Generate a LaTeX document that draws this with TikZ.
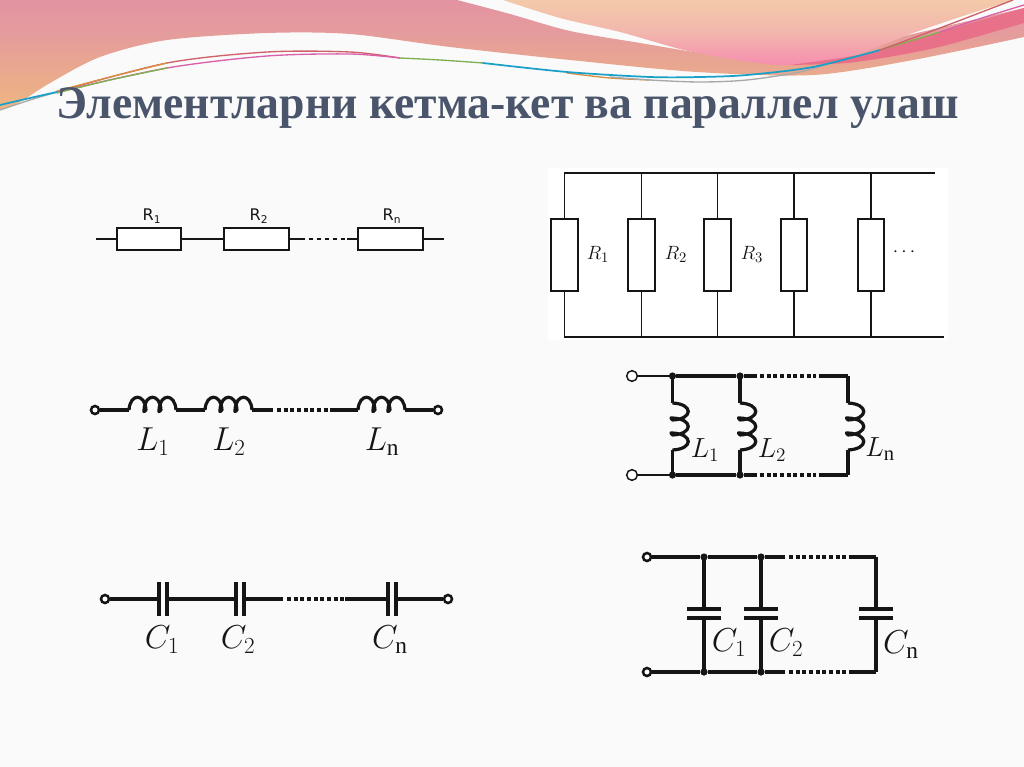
\documentclass[tikz,border=0pt]{standalone}
\usepackage{fontspec}
\setmainfont{Liberation Serif}
\newfontfamily\dejasans{DejaVu Sans}
\definecolor{pagebg}{HTML}{FAFAFA}
\definecolor{inkc}{HTML}{151515}
\definecolor{titlec}{HTML}{4A556B}
\definecolor{bandc}{HTML}{E87088}
\definecolor{redl}{HTML}{D0606A}
\definecolor{magl}{HTML}{D860A8}
\definecolor{bluel}{HTML}{18A0C8}
\definecolor{greenl}{HTML}{80B050}
\definecolor{grayl}{HTML}{A8A8A8}
\definecolor{orangel}{HTML}{D89040}
\definecolor{f1}{HTML}{F7CE74}
\definecolor{f2}{HTML}{EBAE88}
\definecolor{f3}{HTML}{E59C9C}
\definecolor{f4}{HTML}{E084AC}
\definecolor{g1}{HTML}{F870B0}
\definecolor{g2}{HTML}{F882B0}
\definecolor{g3}{HTML}{F2B6AC}
\definecolor{g4}{HTML}{F4D4A8}
\definecolor{g5}{HTML}{F8E2A4}
\pgfdeclareverticalshading{pinkshade}{100bp}{color(0bp)=(f1); color(35bp)=(f2); color(60bp)=(f3); color(100bp)=(f4)}
\pgfdeclareverticalshading{rightshade}{100bp}{color(0bp)=(g1); color(18bp)=(g2); color(50bp)=(g3); color(88bp)=(g4); color(100bp)=(g5)}
\newcommand{\coilshape}[1]{%
    \draw[thickwire] (0,0) .. controls +(1,-#1) and +(-1,-#1) .. (17,0)
      .. controls +(-2,2) and +(-1,2) .. (15,0)
      .. controls +(1,-#1) and +(-1,-#1) .. (32,0)
      .. controls +(-2,2) and +(-1,2) .. (30,0)
      .. controls +(1,-#1) and +(-1,-#1) .. (47,0);}
\tikzset{
  x=0.75pt,y=-0.75pt,
  thinwire/.style={draw=inkc,line width=1.25pt},
  thickwire/.style={draw=inkc,line width=2.4pt,line join=round},
  dotwire/.style={draw=inkc,line width=2.4pt,dash pattern=on 3pt off 2pt},
  fineline/.style={line width=1pt,line cap=round},
  rbox/.style={draw=inkc,line width=1.4pt,fill=white,minimum width=48.5pt,minimum height=16.5pt,inner sep=0pt},
  vbox/.style={draw=inkc,line width=1.3pt,fill=white,minimum width=20pt,minimum height=54pt,inner sep=0pt},
  openterm/.style={circle,draw=inkc,line width=1.9pt,fill=white,minimum size=6pt,inner sep=0pt},
  paleterm/.style={circle,draw=inkc,line width=1.1pt,fill=white,minimum size=8pt,inner sep=0pt},
  joint/.style={circle,fill=inkc,minimum size=5.4pt,inner sep=0pt},
  rlabel/.style={font=\dejasans\fontsize{12}{12}\selectfont,text=inkc,inner sep=0pt},
  mlabel/.style={font=\fontsize{15.5}{15.5}\selectfont,text=inkc,inner sep=0pt},
  biglabel/.style={font=\fontsize{25}{25}\selectfont,text=inkc,inner sep=0pt},
  midlabel/.style={font=\fontsize{22}{22}\selectfont,text=inkc,inner sep=0pt},
  plate/.style={draw=inkc,line width=2.7pt},
  coilh/.pic={\coilshape{17}},
  coilv/.pic={\coilshape{21}}
}
\begin{document}
\begin{tikzpicture}
\useasboundingbox (0,0) rectangle (1024,767);
\fill[pagebg] (0,0) rectangle (1024,767);
\fill[white] (548,168) rectangle (948,340);
\begin{scope}
\clip (0,0) rectangle (1024,767);
% banner
\path[shading=pinkshade] (0,0) -- (457,0)
  -- plot[smooth] coordinates {(457,0) (510,14) (570,31) (640,43) (700,53) (780,65)}
  -- (1024,8) -- (1024,37)
  -- plot[smooth] coordinates {(1024,37) (913,60) (813,75) (697,72) (570,60) (450,47) (350,34) (267,33) (167,40) (100,57) (50,83) (20,102) (0,110)}
  -- cycle;
\path[shading=rightshade] (503,0) -- plot[smooth] coordinates {(503,0) (560,18) (620,32) (680,49) (730,59) (780,65) (813,63) (847,57) (880,46) (913,33) (960,17) (1013,0)} -- cycle;
\fill[bandc] plot[smooth] coordinates {(790,65) (847,57) (880,50) (947,30) (1024,8)} -- (1024,23) -- plot[smooth] coordinates {(1024,23) (947,45) (900,55) (847,63) (790,65)} -- cycle;
\draw[fineline,redl] plot[smooth] coordinates {(57,92) (167,63) (267,52) (350,52) (400,58)};
\draw[fineline,magl] plot[smooth] coordinates {(57,92) (167,68) (267,56) (350,54) (400,58)};
\draw[fineline,greenl] plot[smooth] coordinates {(57,93) (110,80) (167,68)};
\draw[fineline,orangel] plot[smooth] coordinates {(57,91) (110,77) (167,63)};
\draw[fineline,grayl] plot[smooth] coordinates {(0,110) (30,100) (57,92)};
\draw[fineline,orangel] plot[smooth] coordinates {(567,73) (610,78) (650,80)};
\draw[fineline,grayl] plot[smooth] coordinates {(610,77) (650,80) (700,82) (747,80) (800,72) (830,63)};
\draw[fineline,greenl] plot[smooth] coordinates {(400,58) (440,60) (483,63)};
\draw[fineline,bluel,line width=1.3pt] plot[smooth] coordinates {(0,105) (30,98) (57,92)};
\draw[fineline,bluel,line width=1.3pt] plot[smooth] coordinates {(483,63) (567,72) (650,77) (700,77) (747,75) (813,67) (880,50)};
\draw[fineline,greenl] plot[smooth] coordinates {(880,50) (910,41) (940,32)};
\draw[fineline,redl] plot[smooth] coordinates {(880,50) (940,28) (1013,0)};
\draw[fineline,magl] plot[smooth] coordinates {(940,32) (985,17) (1024,5)};
\end{scope}
% title
\node[font=\bfseries\fontsize{35}{35}\selectfont,text=titlec,inner sep=0pt,anchor=base] (title) at (507.5,118) {\scalebox{0.978}[1]{Элементларни кетма-кет ва параллел улаш}};
% series R
\node[rbox] (r1) at (149,239) {};
\node[rbox] (r2) at (256.5,239) {};
\node[rbox] (r3) at (390.5,239) {};
\coordinate (ra) at (96,239); \coordinate (rb) at (444,239);
\coordinate (rd1) at (301,239); \coordinate (rd2) at (347,239);
\draw[thinwire] (ra) -- (r1) (r1) -- (r2) (r2) -- (rd1) (rd2) -- (r3) (r3) -- (rb);
\draw[thinwire,dash pattern=on 3pt off 3pt] (rd1) -- (rd2);
\node[rlabel] (lr1) at (152,216) {R\textsubscript{1}};
\node[rlabel] (lr2) at (259,216) {R\textsubscript{2}};
\node[rlabel] (lr3) at (392,216) {R\textsubscript{n}};
% parallel R
\coordinate (ptl) at (564,173); \coordinate (ptr) at (935,173);
\coordinate (pbl) at (564,337); \coordinate (pbr) at (944,337);
\draw[thinwire] (ptl) -- (ptr) (pbl) -- (pbr);
\foreach \nm/\xx in {a/564.5,b/641.5,c/717.5,d/794,e/871}{
  \coordinate (t\nm) at (\xx,173); \coordinate (u\nm) at (\xx,337);
  \node[vbox] (v\nm) at (\xx,255) {};
  \draw[thinwire] (t\nm) -- (v\nm) (v\nm) -- (u\nm);
}
\node[mlabel] (lp1) at (598,254) {$R_1$};
\node[mlabel] (lp2) at (676,254) {$R_2$};
\node[mlabel] (lp3) at (752,254) {$R_3$};
\node[mlabel] (lp4) at (904,252) {$\cdots$};
% series L
\node[openterm] (la) at (95,410) {};
\node[openterm] (lb) at (438,410) {};
\path (129,410) pic {coilh} (205,410) pic {coilh} (358,410) pic {coilh};
\coordinate (lc1) at (129,410); \coordinate (lc2) at (176,410); \coordinate (lc3) at (205,410);
\coordinate (lc4) at (252,410); \coordinate (lc5) at (358,410); \coordinate (lc6) at (405,410);
\coordinate (ld1) at (273,410); \coordinate (ld2) at (333,410);
\draw[thickwire] (la) -- (lc1) (lc2) -- (lc3) (lc4) -- (ld1) (ld2) -- (lc5) (lc6) -- (lb);
\draw[dotwire] (ld1) ++(4,0) -- (ld2);
\node[biglabel] (ll1) at (153,442) {$L_1$};
\node[biglabel] (ll2) at (229,442) {$L_2$};
\node[biglabel] (ll3) at (382,442) {$L_{\mathrm{n}}$};
% parallel L
\node[paleterm] (pa) at (632,376) {};
\node[paleterm] (pb) at (632,475) {};
\node[joint] (j1) at (672.5,376) {}; \node[joint] (j2) at (740,376) {};
\node[joint] (j3) at (672.5,475) {}; \node[joint] (j4) at (740,475) {};
\coordinate (pr1) at (848,376); \coordinate (pr2) at (848,475);
\coordinate (pd1) at (757,376); \coordinate (pd2) at (819,376);
\coordinate (pd3) at (757,475); \coordinate (pd4) at (819,475);
\foreach \xx/\nm in {672.5/a,740/b,848/c}{
  \coordinate (cs\nm) at (\xx,403); \coordinate (ce\nm) at (\xx,450);
  \path (cs\nm) pic[rotate=-90] {coilv};
  \draw[thickwire] (\xx,376) -- (cs\nm) (ce\nm) -- (\xx,475);
}
\draw[thickwire,line width=1.9pt] (pa) -- (j1);
\draw[thickwire,line width=1.9pt] (pb) -- (j3);
\draw[thickwire] (j1) -- (j2) (j2) -- (pd1) (pd2) -- (pr1) (j3) -- (j4) (j4) -- (pd3) (pd4) -- (pr2);
\draw[dotwire] (pd1) ++(3,0) -- ++(56,0);
\draw[dotwire] (pd3) ++(3,0) -- ++(56,0);
\node[midlabel] (m1) at (705,450) {$L_1$};
\node[midlabel] (m2) at (772,450) {$L_2$};
\node[midlabel] (m3) at (880,449) {$L_{\mathrm{n}}$};
% series C
\node[openterm] (sa) at (105,599) {};
\node[openterm] (sb) at (448,599) {};
\coordinate (s1) at (159,599); \coordinate (s2) at (167,599); \coordinate (s3) at (236,599);
\coordinate (s4) at (244,599); \coordinate (s5) at (388,599); \coordinate (s6) at (396,599);
\coordinate (sd1) at (283,599); \coordinate (sd2) at (345,599);
\foreach \xx in {159,167,236,244,388,396}{ \draw[plate] (\xx,582) -- (\xx,616); }
\draw[thickwire] (sa) -- (s1) (s2) -- (s3) (s4) -- (sd1) (sd2) -- (s5) (s6) -- (sb);
\draw[dotwire] (sd1) ++(4,0) -- (sd2);
\node[biglabel] (c1) at (162,640) {$C_1$};
\node[biglabel] (c2) at (238,640) {$C_2$};
\node[biglabel] (c3) at (390,640) {$C_{\mathrm{n}}$};
% parallel C
\node[openterm] (qa) at (647,557) {};
\node[openterm] (qb) at (647,672) {};
\node[joint] (k1) at (704,557) {}; \node[joint] (k2) at (761,557) {};
\node[joint] (k3) at (704,672) {}; \node[joint] (k4) at (761,672) {};
\coordinate (qr1) at (876,557); \coordinate (qr2) at (876,672);
\coordinate (qd1) at (785,557); \coordinate (qd2) at (849,557);
\coordinate (qd3) at (785,672); \coordinate (qd4) at (849,672);
\foreach \xx in {704,761,876}{
  \draw[plate] (\xx-17,609) -- (\xx+17,609);
  \draw[plate] (\xx-17,618) -- (\xx+17,618);
  \draw[thickwire] (\xx,557) -- (\xx,609) (\xx,618) -- (\xx,672);
}
\draw[thickwire] (qa) -- (k1) (k1) -- (k2) (k2) -- (qd1) (qd2) -- (qr1) (qb) -- (k3) (k3) -- (k4) (k4) -- (qd3) (qd4) -- (qr2);
\draw[dotwire] (qd1) ++(4,0) -- ++(58,0);
\draw[dotwire] (qd3) ++(4,0) -- ++(58,0);
\node[biglabel] (n1) at (729,643) {$C_1$};
\node[biglabel] (n2) at (786,643) {$C_2$};
\node[biglabel] (n3) at (901,645) {$C_{\mathrm{n}}$};
\end{tikzpicture}
\end{document}
